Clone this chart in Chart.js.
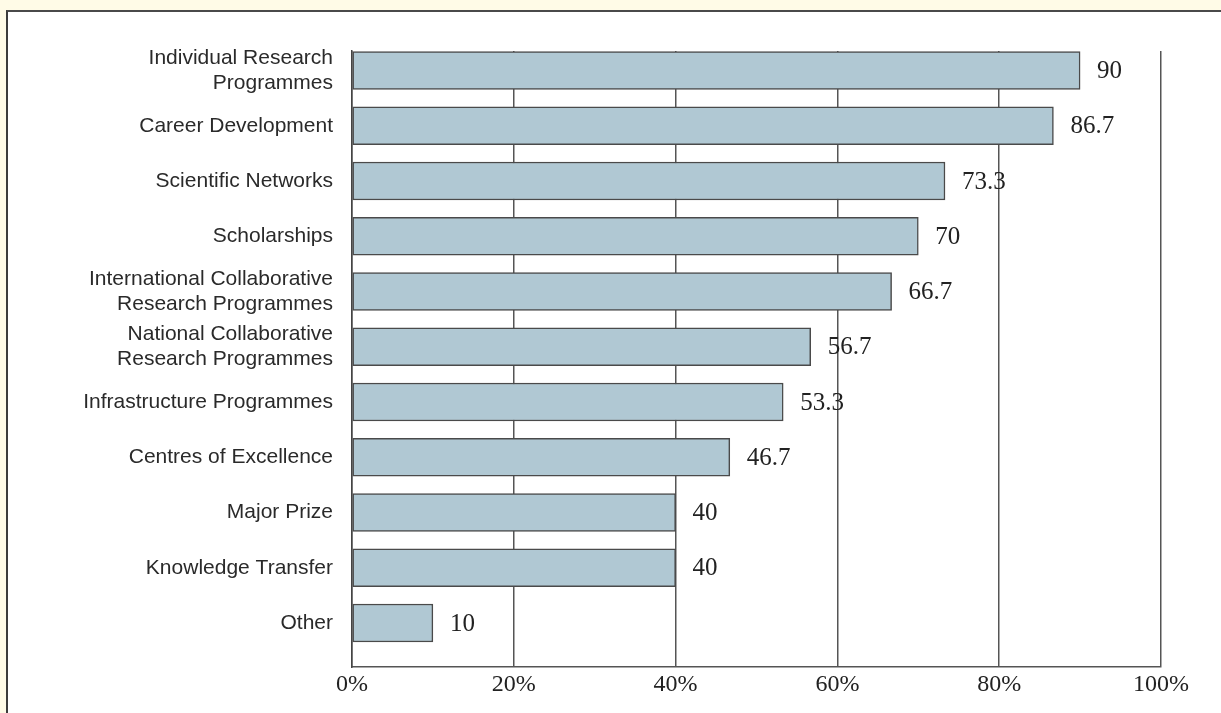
<!DOCTYPE html>
<html>
<head>
<meta charset="utf-8">
<title>Programme types</title>
<script src="https://cdn.jsdelivr.net/npm/chart.js@4/dist/chart.umd.min.js"></script>
<style>
  html, body { margin: 0; padding: 0; width: 1221px; height: 713px; overflow: hidden; background: #fffbe7; }
  .panel { position: absolute; left: 6px; top: 10px; width: 1240px; height: 720px; background: #fff;
           border-top: 2px solid #4a4a4a; border-left: 2px solid #3c3c3c; }
  #wrap { position: absolute; left: 0; top: 0; width: 1221px; height: 713px; }
</style>
</head>
<body>
<div class="panel"></div>
<div id="wrap"><canvas id="programmeChart" width="1221" height="713"></canvas></div>
<script>
// share of respondents running each programme type (%)
const categories = [
    ['Individual Research', 'Programmes'],
    'Career Development',
    'Scientific Networks',
    'Scholarships',
    ['International Collaborative', 'Research Programmes'],
    ['National Collaborative', 'Research Programmes'],
    'Infrastructure Programmes',
    'Centres of Excellence',
    'Major Prize',
    'Knowledge Transfer',
    'Other'
];
const values = [90, 86.7, 73.3, 70, 66.7, 56.7, 53.3, 46.7, 40, 40, 10];
const xTicks = [0, 20, 40, 60, 80, 100];

const sansFont = "'Liberation Sans', Arial, sans-serif";
const serifFont = "'Liberation Serif', 'Times New Roman', serif";

// value printed just past the end of each bar
const barValues = {
    id: 'barValues',
    afterDatasetsDraw(chart) {
        const ctx = chart.ctx;
        const meta = chart.getDatasetMeta(0);
        ctx.save();
        ctx.font = '25px ' + serifFont;
        ctx.fillStyle = '#222';
        ctx.textAlign = 'left';
        ctx.textBaseline = 'middle';
        meta.data.forEach((bar, i) => {
            ctx.fillText(String(values[i]), bar.x + 17, bar.y + 1);
        });
        ctx.restore();
    }
};

new Chart(document.getElementById('programmeChart'), {
    type: 'bar',
    data: {
        datasets: [{
            data: values.map((v, i) => ({ x: v, y: i })),
            backgroundColor: '#b0c8d3',
            borderColor: '#4a4a4a',
            borderWidth: 1.5,
            borderSkipped: false,
            barThickness: 38
        }]
    },
    options: {
        indexAxis: 'y',
        responsive: false,
        animation: false,
        layout: { padding: { top: 51, right: 60, left: 0, bottom: 0 } },
        plugins: { legend: { display: false }, tooltip: { enabled: false } },
        scales: {
            x: {
                type: 'linear',
                min: 0, max: 100,
                afterBuildTicks: s => { s.ticks = xTicks.map(v => ({ value: v })); },
                afterFit: s => { s.height = 46; },
                grid: { color: '#555', lineWidth: 1.5, drawTicks: false },
                border: { display: true, color: '#555', width: 1.5 },
                ticks: {
                    padding: 3,
                    color: '#222',
                    font: { family: serifFont, size: 24 },
                    callback: v => v + '%'
                }
            },
            y: {
                type: 'linear',
                reverse: true,
                offset: false,
                min: -0.353, max: 10.796,
                afterBuildTicks: s => { s.ticks = categories.map((c, i) => ({ value: i })); },
                afterFit: s => { s.width = 352; },
                grid: { display: false, drawTicks: false },
                border: { display: true, color: '#444', width: 1.5 },
                ticks: {
                    padding: 19,
                    color: '#2a2a2a',
                    font: { family: sansFont, size: 21, lineHeight: 1.2 },
                    callback: v => categories[v]
                }
            }
        }
    },
    plugins: [barValues]
});
</script>
</body>
</html>
